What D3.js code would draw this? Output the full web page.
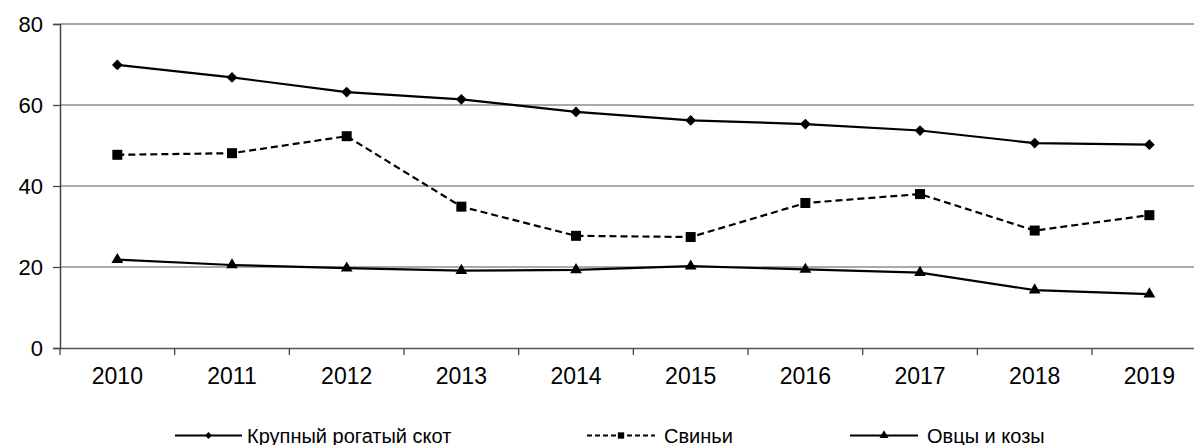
<!DOCTYPE html>
<html>
<head>
<meta charset="utf-8">
<script src="https://cdn.jsdelivr.net/npm/d3@7"></script>
<style>
  html, body { margin: 0; padding: 0; background: #fff; }
  svg { display: block; font-family: "Liberation Sans", Arial, sans-serif; }
</style>
</head>
<body>
<svg id="chart" width="1194" height="445"></svg>
<script>
const years = ["2010","2011","2012","2013","2014","2015","2016","2017","2018","2019"];
const cattle = [69.9, 66.8, 63.2, 61.4, 58.3, 56.2, 55.3, 53.7, 50.6, 50.2];
const pigs   = [47.7, 48.1, 52.3, 34.9, 27.7, 27.4, 35.8, 38.0, 29.0, 32.8];
const sheep  = [21.8, 20.5, 19.7, 19.1, 19.3, 20.2, 19.4, 18.6, 14.3, 13.3];
const yTicks = [0, 20, 40, 60, 80];
const seriesNames = ["Крупный рогатый скот", "Свиньи", "Овцы и козы"];

const svg = d3.select("#chart");
const mLeft = 60, mTop = 24, mBottom = 348;
const bandW = 114.67;

const x = d3.scaleBand().domain(years).range([mLeft, mLeft + bandW * years.length]).paddingInner(0).paddingOuter(0);
const y = d3.scaleLinear().domain([0, 80]).range([mBottom, mTop]);

// gridlines
svg.append("g").selectAll("line").data(yTicks.filter(d => d > 0)).join("line")
  .attr("x1", mLeft).attr("x2", mLeft + bandW * years.length)
  .attr("y1", d => y(d)).attr("y2", d => y(d))
  .attr("stroke", "#8c8c8c").attr("stroke-width", 1.5);

// y axis
const yAxis = d3.axisLeft(y).tickValues(yTicks).tickSize(7).tickPadding(10).tickFormat(d3.format("d"));
const gy = svg.append("g").attr("transform", `translate(${mLeft},0)`).call(yAxis);
gy.select(".domain").attr("stroke", "#444").attr("stroke-width", 1.5);
gy.selectAll(".tick line").attr("stroke", "#444").attr("stroke-width", 1.3);
gy.selectAll("text").attr("font-size", 22).attr("fill", "#000").attr("font-family", "Liberation Sans, Arial, sans-serif");

// x axis
const xAxis = d3.axisBottom(x).tickSize(0).tickPadding(20);
const gx = svg.append("g").attr("transform", `translate(0,${mBottom})`).call(xAxis);
gx.select(".domain").attr("stroke", "#555").attr("stroke-width", 1.5);
gx.selectAll("text").attr("font-size", 23).attr("fill", "#000").attr("font-family", "Liberation Sans, Arial, sans-serif");
// boundary ticks
const bounds = years.map(d => x(d)).concat([x(years[years.length-1]) + x.bandwidth()]);
svg.append("g").selectAll("line").data(bounds).join("line")
  .attr("x1", d => d).attr("x2", d => d)
  .attr("y1", mBottom).attr("y2", mBottom + 7)
  .attr("stroke", "#444").attr("stroke-width", 1.3);

const cx = d => x(d) + x.bandwidth() / 2;

const series = [
  { name: seriesNames[0], values: cattle, dash: null, symbol: d3.symbolSquare, size: 58, rot: 45 },
  { name: seriesNames[1], values: pigs, dash: "7,4", symbol: d3.symbolSquare, size: 100, rot: 0 },
  { name: seriesNames[2], values: sheep, dash: null, symbol: d3.symbolTriangle, size: 60, rot: 0 }
];

const line = d3.line().x((d, i) => cx(years[i])).y(d => y(d));

series.forEach(s => {
  svg.append("path").datum(s.values)
    .attr("d", line).attr("fill", "none").attr("stroke", "#000")
    .attr("stroke-width", 2.2)
    .attr("stroke-dasharray", s.dash);
  svg.append("g").selectAll("path").data(s.values).join("path")
    .attr("transform", (d, i) => `translate(${cx(years[i])},${y(d)}) rotate(${s.rot})`)
    .attr("d", d3.symbol().type(s.symbol).size(s.size))
    .attr("fill", "#000");
});

// legend
const legendY = 435.5;
const legendItems = [
  { s: series[0], x1: 175, x2: 242, tx: 247, msize: 24 },
  { s: series[1], x1: 587, x2: 655, tx: 664, msize: 40 },
  { s: series[2], x1: 850, x2: 918, tx: 927, msize: 35 }
];
const lg = svg.append("g");
legendItems.forEach(it => {
  lg.append("line").attr("x1", it.x1).attr("x2", it.x2).attr("y1", legendY).attr("y2", legendY)
    .attr("stroke", "#000").attr("stroke-width", 2.2).attr("stroke-dasharray", it.s.dash ? "5,3" : null);
  lg.append("path").attr("transform", `translate(${(it.x1 + it.x2) / 2},${legendY}) rotate(${it.s.rot})`)
    .attr("d", d3.symbol().type(it.s.symbol).size(it.msize)).attr("fill", "#000");
  lg.append("text").attr("x", it.tx).attr("y", legendY).attr("dy", "0.35em")
    .attr("font-size", 20).attr("fill", "#000").text(it.s.name);
});
</script>
</body>
</html>
